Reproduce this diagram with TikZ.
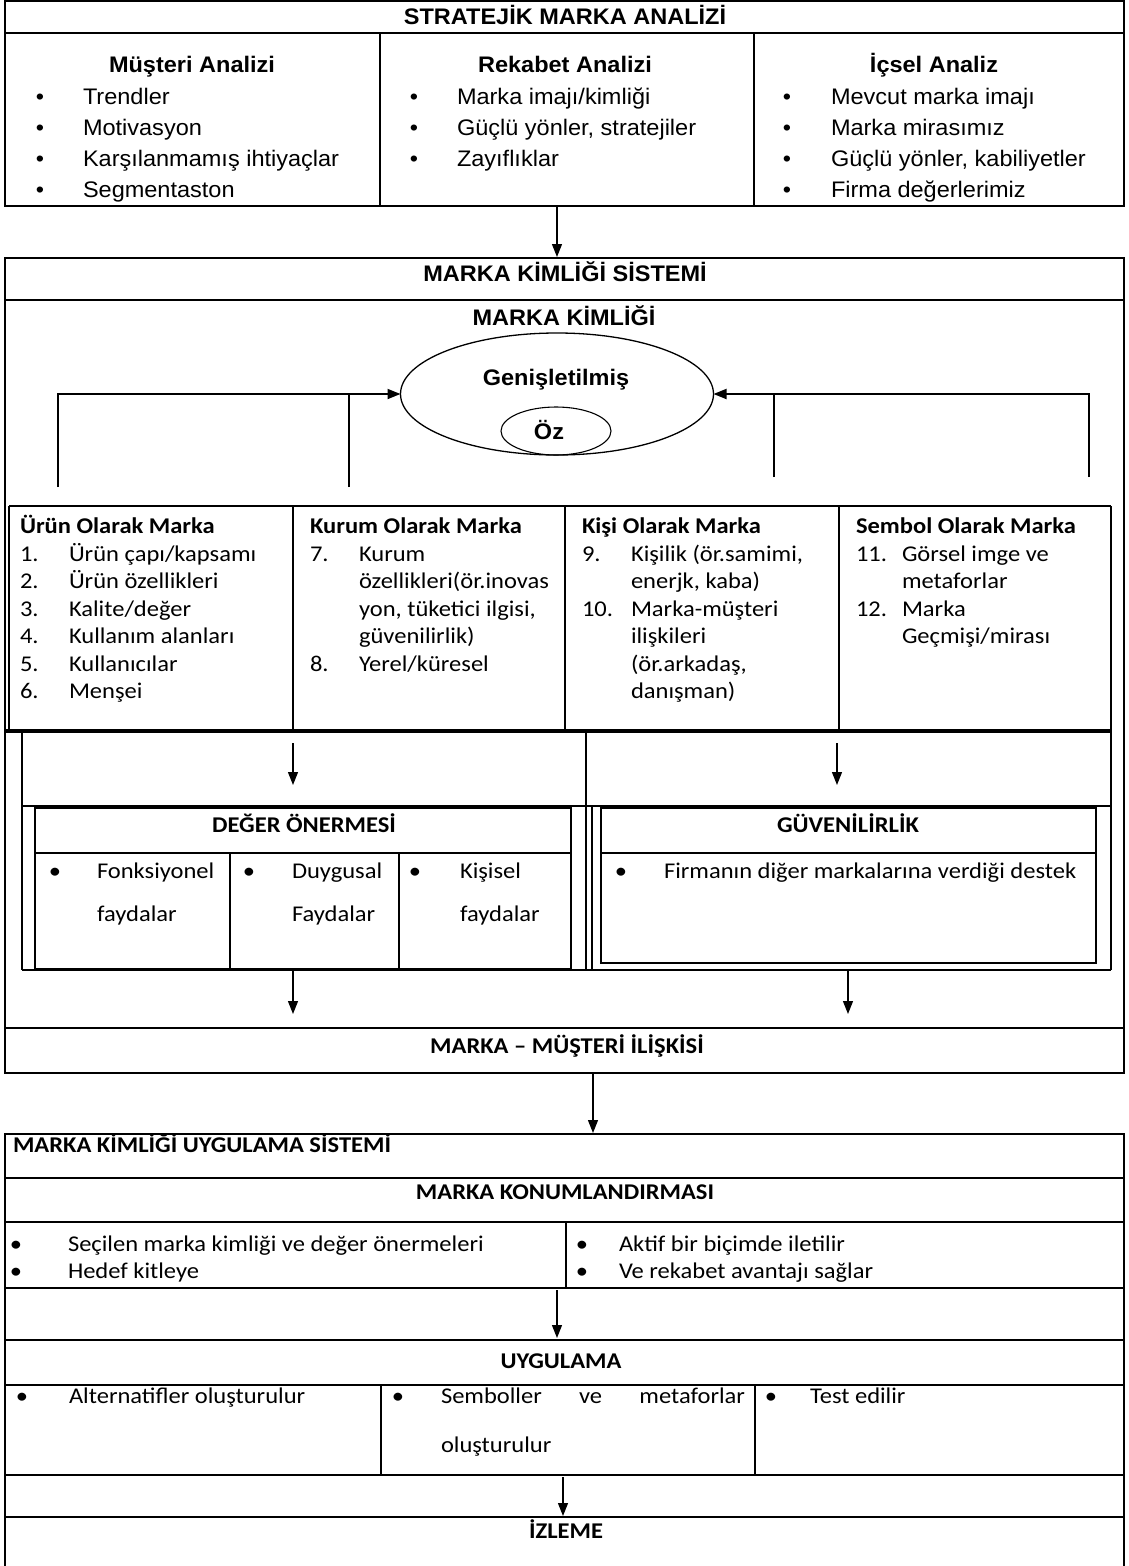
\documentclass[tikz,border=0pt]{standalone}
\usepackage{fontspec}
\setmainfont{Carlito}[FakeStretch=1.09]
\newfontfamily\arialf{Liberation Sans}[FakeStretch=1.045]
\usetikzlibrary{arrows.meta,shapes.geometric}
\newcommand\bul[6]{\node[#1,anchor=base] (#2-b) at (#3,#5) {•}; \node[#1,anchor=base west] (#2) at (#4,#5) {#6};}
\newcommand\lft[5]{\node[#1,anchor=base west] (#2) at (#3,#4) {#5};}
\begin{document}
\begin{tikzpicture}[x=1pt,y=-1pt,
  every node/.style={inner sep=0pt, outer sep=0pt},
  tx/.style={font=\fontsize{22.5}{27}\selectfont},
  txb/.style={font=\bfseries\fontsize{22.5}{27}\selectfont},
  ax/.style={font=\arialf\fontsize{22.5}{27}\selectfont},
  axb/.style={font=\arialf\bfseries\fontsize{22.5}{27}\selectfont},
  frame/.style={line width=2pt},
  rule/.style={line width=2pt},
  sep/.style={line width=1.3pt},
  arr/.style={line width=1.3pt,-{Triangle[length=13pt,width=10pt]}},
]
\useasboundingbox (0,0) rectangle (1129,1566);
\fill[white] (0,0) rectangle (1129,1566);

% ---------- Section 1 ----------
\draw[frame] (5,1) rectangle (1124,206);
\draw[rule] (5,33) -- (1124,33);
\draw[sep] (380,33) -- (380,206);
\draw[sep] (754,33) -- (754,206);
\node[axb,anchor=base] (s1t) at (565,24) {STRATEJİK MARKA ANALİZİ};
\node[axb,anchor=base] (h1) at (192,72) {Müşteri Analizi};
\node[axb,anchor=base] (h2) at (565,72) {Rekabet Analizi};
\node[axb,anchor=base] (h3) at (934,72) {İçsel Analiz};
\bul{ax}{m1}{40}{83}{104}{Trendler}
\bul{ax}{m2}{40}{83}{135}{Motivasyon}
\bul{ax}{m3}{40}{83}{166}{Karşılanmamış ihtiyaçlar}
\bul{ax}{m4}{40}{83}{197}{Segmentaston}
\bul{ax}{r1}{414}{457}{104}{Marka imajı/kimliği}
\bul{ax}{r2}{414}{457}{135}{Güçlü yönler, stratejiler}
\bul{ax}{r3}{414}{457}{166}{Zayıflıklar}
\bul{ax}{c1}{787}{831}{104}{Mevcut marka imajı}
\bul{ax}{c2}{787}{831}{135}{Marka mirasımız}
\bul{ax}{c3}{787}{831}{166}{Güçlü yönler, kabiliyetler}
\bul{ax}{c4}{787}{831}{197}{Firma değerlerimiz}

\coordinate (a1s) at (557,207); \coordinate (a1e) at (557,257);
\draw[arr] (a1s) -- (a1e);

% ---------- Section 2 ----------
\draw[frame] (5,258) rectangle (1124,1073);
\draw[rule] (5,300) -- (1124,300);
\node[axb,anchor=base] (s2t) at (565,281) {MARKA KİMLİĞİ SİSTEMİ};
\node[axb,anchor=base] (s2k) at (564,325) {MARKA KİMLİĞİ};

\node[draw,ellipse,line width=1.3pt,minimum width=313pt,minimum height=122pt] (gen) at (557,394) {};
\node[draw,ellipse,line width=1.1pt,minimum width=110pt,minimum height=48pt] (oz) at (556,431) {};
\node[axb,anchor=base] (gent) at (556,385) {Genişletilmiş};
\node[axb,anchor=base] (ozt) at (549,439) {Öz};

\coordinate (L1) at (58,487); \coordinate (L2) at (349,487);
\coordinate (R1) at (774,477); \coordinate (R2) at (1089,477);
\draw[arr,line width=1.8pt] (L1) |- (gen.west);
\draw[sep] (L2) -- (L2 |- gen.west);
\draw[arr,line width=1.8pt] (R2) |- (gen.east);
\draw[sep] (R1) -- (R1 |- gen.east);

% four-column table
\draw[rule] (9,506) -- (1111,506);
\draw[sep] (9,506) -- (9,731);
\draw[sep] (1111,506) -- (1111,731);
\foreach \x in {293,565,839} \draw[sep] (\x,506) -- (\x,731);
\draw[line width=4pt] (5,731) -- (1111,731);

\lft{txb}{k1h}{20}{533}{Ürün Olarak Marka}
\lft{tx}{k1n1}{20}{561}{1.} \lft{tx}{k1t1}{69}{561}{Ürün çapı/kapsamı}
\lft{tx}{k1n2}{20}{588}{2.} \lft{tx}{k1t2}{69}{588}{Ürün özellikleri}
\lft{tx}{k1n3}{20}{616}{3.} \lft{tx}{k1t3}{69}{616}{Kalite/değer}
\lft{tx}{k1n4}{20}{643}{4.} \lft{tx}{k1t4}{69}{643}{Kullanım alanları}
\lft{tx}{k1n5}{20}{671}{5.} \lft{tx}{k1t5}{69}{671}{Kullanıcılar}
\lft{tx}{k1n6}{20}{698}{6.} \lft{tx}{k1t6}{69}{698}{Menşei}

\lft{txb}{k2h}{310}{533}{Kurum Olarak Marka}
\lft{tx}{k2n1}{310}{561}{7.} \lft{tx}{k2t1}{359}{561}{Kurum}
\lft{tx}{k2t2}{359}{588}{özellikleri(ör.inovas}
\lft{tx}{k2t3}{359}{616}{yon, tüketici ilgisi,}
\lft{tx}{k2t4}{359}{643}{güvenilirlik)}
\lft{tx}{k2n2}{310}{671}{8.} \lft{tx}{k2t5}{359}{671}{Yerel/küresel}

\lft{txb}{k3h}{582}{533}{Kişi Olarak Marka}
\lft{tx}{k3n1}{582}{561}{9.} \lft{tx}{k3t1}{631}{561}{Kişilik (ör.samimi,}
\lft{tx}{k3t2}{631}{588}{enerjk, kaba)}
\lft{tx}{k3n2}{582}{616}{10.} \lft{tx}{k3t3}{631}{616}{Marka-müşteri}
\lft{tx}{k3t4}{631}{643}{ilişkileri}
\lft{tx}{k3t5}{631}{671}{(ör.arkadaş,}
\lft{tx}{k3t6}{631}{698}{danışman)}

\lft{txb}{k4h}{856}{533}{Sembol Olarak Marka}
\lft{tx}{k4n1}{856}{561}{11.} \lft{tx}{k4t1}{902}{561}{Görsel imge ve}
\lft{tx}{k4t2}{902}{588}{metaforlar}
\lft{tx}{k4n2}{856}{616}{12.} \lft{tx}{k4t3}{902}{616}{Marka}
\lft{tx}{k4t4}{902}{643}{Geçmişi/mirası}

% arrows row
\draw[sep] (22,731) -- (22,970);
\draw[sep] (1111,731) -- (1111,970);
\draw[sep] (586,731) -- (586,970);
\draw[sep] (592,806) -- (592,970);
\draw[rule] (22,806) -- (1111,806);
\coordinate (a2s) at (293,743); \coordinate (a2e) at (293,785);
\coordinate (a3s) at (837,743); \coordinate (a3e) at (837,785);
\draw[arr] (a2s) -- (a2e);
\draw[arr] (a3s) -- (a3e);

% DEGER box
\draw[rule] (35,808) rectangle (571,969);
\draw[rule] (35,853) -- (571,853);
\draw[sep] (230,853) -- (230,969);
\draw[sep] (399,853) -- (399,969);
\node[txb,anchor=base] (dg) at (304,832) {DEĞER ÖNERMESİ};
\bul{tx}{d1}{55}{97}{878}{Fonksiyonel}
\lft{tx}{d1b}{97}{921}{faydalar}
\bul{tx}{d2}{249}{292}{878}{Duygusal}
\lft{tx}{d2b}{292}{921}{Faydalar}
\bul{tx}{d3}{415}{460}{878}{Kişisel}
\lft{tx}{d3b}{460}{921}{faydalar}

% GUVENILIRLIK box
\draw[rule] (601,808) rectangle (1096,963);
\draw[rule] (601,853) -- (1096,853);
\node[txb,anchor=base] (gv) at (848,832) {GÜVENİLİRLİK};
\bul{tx}{g1}{621}{664}{878}{Firmanın diğer markalarına verdiği destek}

\draw[rule] (22,970) -- (1111,970);
\coordinate (a4s) at (293,971); \coordinate (a4e) at (293,1014);
\coordinate (a5s) at (848,971); \coordinate (a5e) at (848,1014);
\draw[arr] (a4s) -- (a4e);
\draw[arr] (a5s) -- (a5e);

\draw[rule] (5,1028) -- (1124,1028);
\node[txb,anchor=base] (mm) at (567,1053) {MARKA – MÜŞTERİ İLİŞKİSİ};

\coordinate (a6s) at (593,1074); \coordinate (a6e) at (593,1133);
\draw[arr] (a6s) -- (a6e);

% ---------- Section 3 ----------
\draw[frame] (5,1566) -- (5,1134) -- (1124,1134) -- (1124,1566);
\foreach \y in {1178,1222,1288,1340,1385,1475,1517} \draw[rule] (5,\y) -- (1124,\y);
\lft{txb}{u0}{13}{1152}{MARKA KİMLİĞİ UYGULAMA SİSTEMİ}
\node[txb,anchor=base] (u1) at (565,1199) {MARKA KONUMLANDIRMASI};
\draw[sep] (566,1222) -- (566,1288);
\bul{tx}{p1}{16}{68}{1251}{Seçilen marka kimliği ve değer önermeleri}
\bul{tx}{p2}{16}{68}{1278}{Hedef kitleye}
\bul{tx}{p3}{582}{619}{1251}{Aktif bir biçimde iletilir}
\bul{tx}{p4}{582}{619}{1278}{Ve rekabet avantajı sağlar}

\coordinate (a7s) at (557,1290); \coordinate (a7e) at (557,1338);
\draw[arr] (a7s) -- (a7e);
\node[txb,anchor=base] (u2) at (561,1368) {UYGULAMA};
\draw[sep] (381,1385) -- (381,1475);
\draw[sep] (755,1385) -- (755,1475);
\bul{tx}{q1}{22}{69}{1403}{Alternatifler oluşturulur}
\bul{tx}{q2}{398}{441}{1403}{\makebox[304pt][s]{Semboller ve metaforlar}}
\lft{tx}{q2b}{441}{1452}{oluşturulur}
\bul{tx}{q3}{771}{810}{1403}{Test edilir}

\coordinate (a8s) at (563,1477); \coordinate (a8e) at (563,1516);
\draw[arr] (a8s) -- (a8e);
\node[txb,anchor=base] (u3) at (566,1538) {İZLEME};
\end{tikzpicture}
\end{document}
